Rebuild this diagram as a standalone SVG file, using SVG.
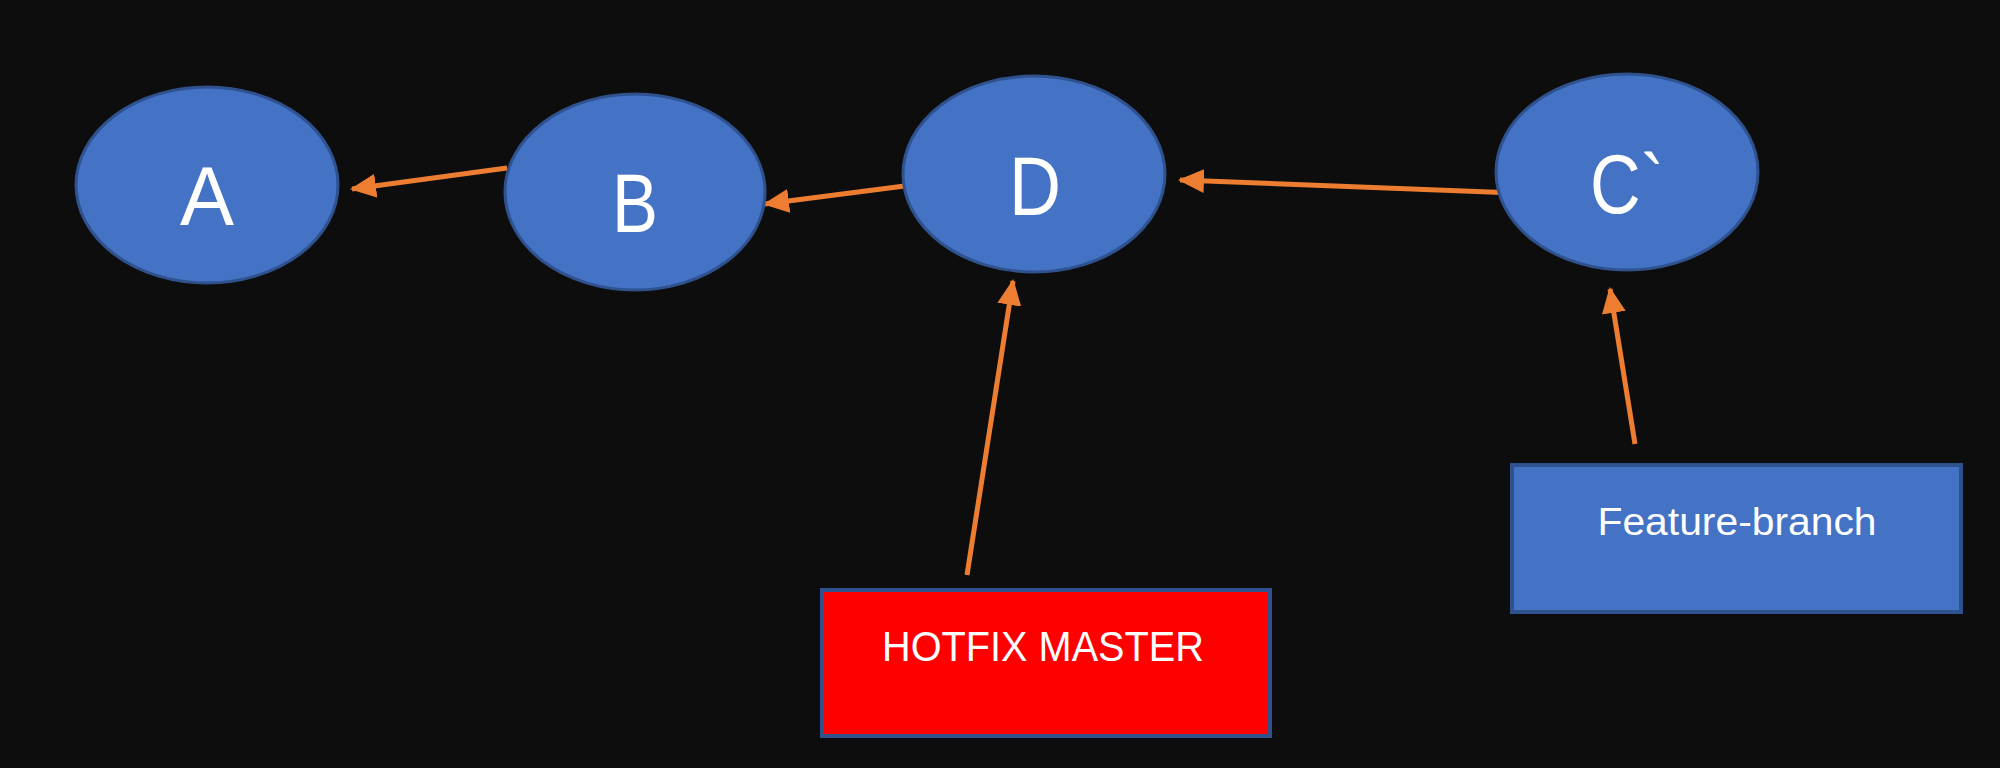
<svg xmlns="http://www.w3.org/2000/svg" width="2000" height="768" viewBox="0 0 2000 768">
<style>
.node ellipse{fill:#4472C4;stroke:#2F528F;stroke-width:3}
.lbl{font-family:"Liberation Sans",Arial,sans-serif;fill:#FFFFFF;text-anchor:middle}
.big{font-size:84px}
.conn line{stroke:#ED7D31;stroke-width:5;fill:none}
</style>
<defs>
<marker id="ah" markerUnits="userSpaceOnUse" markerWidth="26" markerHeight="24" refX="24" refY="12" orient="auto" viewBox="0 0 26 24">
<path d="M0,0 L26,12 L0,24 Z" fill="#ED7D31"/>
</marker>
</defs>
<rect x="0" y="0" width="2000" height="768" fill="#0D0D0D"/>
<g id="connectors" class="conn">
<line x1="507" y1="168" x2="352" y2="189" marker-end="url(#ah)"/>
<line x1="920" y1="184" x2="765" y2="204" marker-end="url(#ah)"/>
<line x1="1515" y1="193" x2="1180" y2="180" marker-end="url(#ah)"/>
<line x1="967" y1="575" x2="1013" y2="281" marker-end="url(#ah)"/>
<line x1="1635" y1="444" x2="1610" y2="289" marker-end="url(#ah)"/>
</g>
<g id="node-A" class="node">
<ellipse cx="207" cy="185" rx="131" ry="98"/>
<text class="lbl big" x="207" y="225" textLength="54" lengthAdjust="spacingAndGlyphs">A</text>
</g>
<g id="node-B" class="node">
<ellipse cx="635" cy="192" rx="130" ry="98"/>
<text class="lbl big" x="635" y="232" textLength="46" lengthAdjust="spacingAndGlyphs">B</text>
</g>
<g id="node-D" class="node">
<ellipse cx="1034" cy="174" rx="131" ry="98"/>
<text class="lbl big" x="1035" y="215" textLength="52" lengthAdjust="spacingAndGlyphs">D</text>
</g>
<g id="node-C" class="node">
<ellipse cx="1627" cy="172" rx="131" ry="98"/>
<text class="lbl big" x="1627" y="213" textLength="74" lengthAdjust="spacingAndGlyphs">C`</text>
</g>
<g id="hotfix-master">
<rect x="822" y="590" width="448" height="146" fill="#FF0000" stroke="#2F528F" stroke-width="4"/>
<text class="lbl" x="1043" y="661" font-size="43" textLength="322" lengthAdjust="spacingAndGlyphs">HOTFIX MASTER</text>
</g>
<g id="feature-branch">
<rect x="1512" y="465" width="449" height="147" fill="#4472C4" stroke="#2F528F" stroke-width="4"/>
<text class="lbl" x="1737" y="535" font-size="38" textLength="279" lengthAdjust="spacingAndGlyphs">Feature-branch</text>
</g>
</svg>
